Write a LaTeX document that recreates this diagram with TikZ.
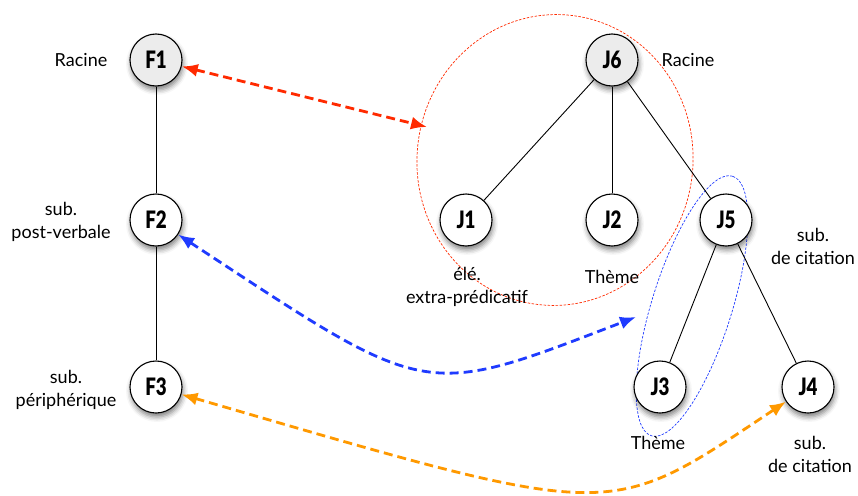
\documentclass[tikz,border=0pt]{standalone}
\usepackage{fontspec}
\setmainfont{Lato}
\newfontfamily\nodefont[FakeStretch=0.78]{Lato Black}
\usetikzlibrary{arrows.meta,shadows.blur,shapes.geometric}
\definecolor{linkred}{HTML}{FF2A00}
\definecolor{linkblue}{HTML}{1F3BFF}
\definecolor{linkorange}{HTML}{FF9900}

\begin{document}
\begin{tikzpicture}[
    x=1pt, y=-1pt,
    font=\fontsize{18}{23}\selectfont,
    tnode/.style={circle, draw, line width=1.1pt, minimum size=52pt, inner sep=0pt,
      fill=white, font=\nodefont\fontsize{24}{24}\selectfont,
      blur shadow={shadow xshift=1pt, shadow yshift=-4pt, shadow blur radius=5pt, shadow opacity=50}},
    rootnode/.style={tnode, fill=gray!15},
    edge/.style={line width=0.9pt},
    group/.style={ellipse, draw, inner sep=0pt, line width=0.7pt, dash pattern=on 2.5pt off 1.5pt},
    link/.style={{Latex[length=16pt,width=13pt]}-{Latex[length=16pt,width=13pt]},
      line width=2.8pt, dash pattern=on 9pt off 5pt},
    lbl/.style={align=center}
  ]
    \useasboundingbox (0,0) rectangle (858,495);

    \node[group, draw=linkred, minimum width=276pt, minimum height=291pt, rotate=-6] (J6grp) at (555,160) {};
    \node[group, draw=linkblue, minimum width=272pt, minimum height=80pt, rotate=72.6] (J5grp) at (692,306) {};

    \node[rootnode] (F1) at (156,60) {F1};
    \node[tnode] (F2) at (156,220) {F2};
    \node[tnode] (F3) at (156,387) {F3};

    \node[rootnode] (J6) at (612,60) {J6};
    \node[tnode] (J1) at (466,220) {J1};
    \node[tnode] (J2) at (612,220) {J2};
    \node[tnode] (J5) at (726,220) {J5};
    \node[tnode] (J3) at (660,387) {J3};
    \node[tnode] (J4) at (808,387) {J4};

    \node[lbl] (F1lbl) at (81,60) {Racine};
    \node[lbl] (F2lbl) at (61,222) {sub.\\post-verbale};
    \node[lbl] (F3lbl) at (66,390) {sub.\\périphérique};
    \node[lbl] (J6lbl) at (688,60) {Racine};
    \node[lbl] (J1lbl) at (467,287) {élé.\\extra-prédicatif};
    \node[lbl] (J2lbl) at (612,277) {Thème};
    \node[lbl] (J5lbl) at (813,246) {sub.\\de citation};
    \node[lbl] (J3lbl) at (658,443) {Thème};
    \node[lbl] (J4lbl) at (810,454) {sub.\\de citation};

    \coordinate (redend) at (427,127);
    \coordinate (blueend) at (636,317);

    \draw[edge] (F1) -- (F2);
    \draw[edge] (F2) -- (F3);
    \draw[edge] (J6) -- (J1);
    \draw[edge] (J6) -- (J2);
    \draw[edge] (J6) -- (J5);
    \draw[edge] (J5) -- (J3);
    \draw[edge] (J5) -- (J4);

    \draw[link, draw=linkred] (F1) -- (redend);
    \draw[link, draw=linkblue] (F2) .. controls (430,400) and (420,400) .. (blueend);
    \draw[link, draw=linkorange] (F3) .. controls (620,522) and (605,522) .. (J4);
  \end{tikzpicture}
\end{document}
